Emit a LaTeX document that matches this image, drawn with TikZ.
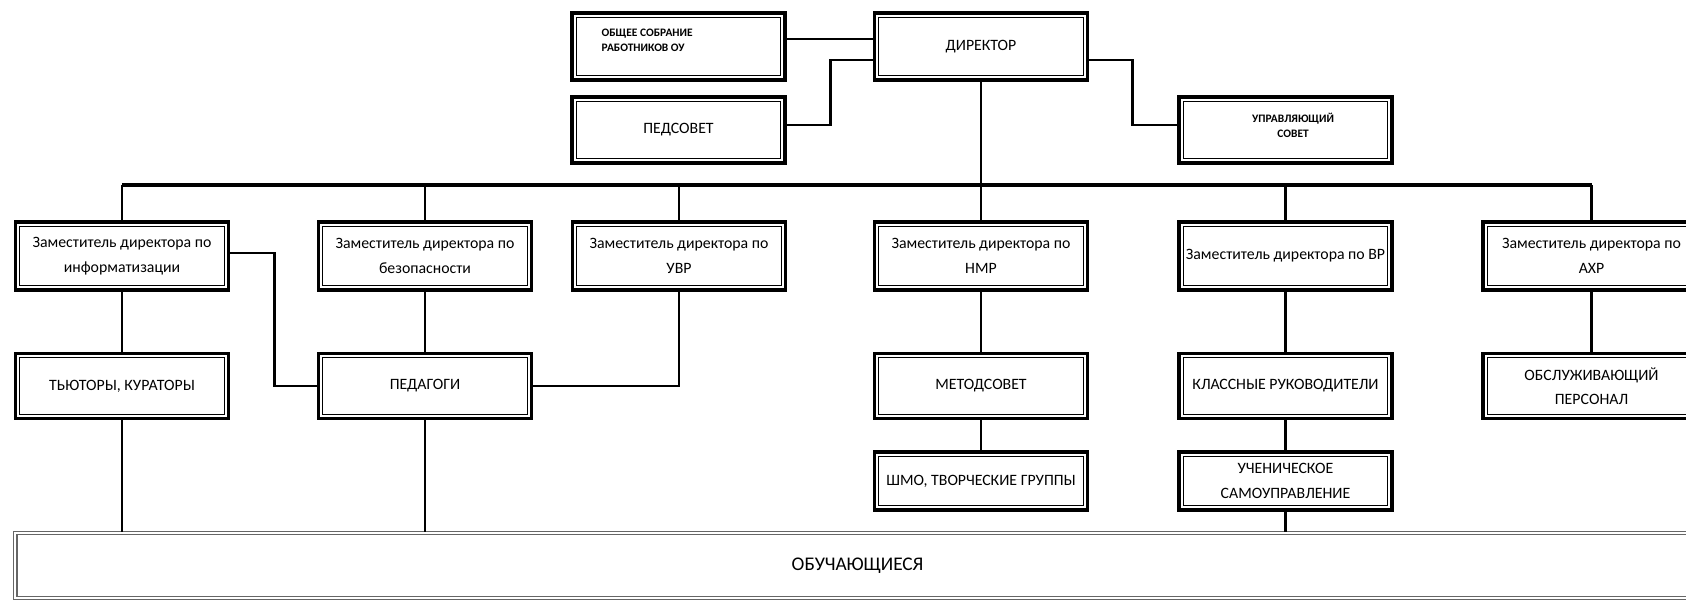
\documentclass[tikz,border=0pt]{standalone}
\usepackage{fontspec}
\setmainfont{Carlito}
\usepackage{tikz}
\usetikzlibrary{calc,positioning}

\begin{document}
\begin{tikzpicture}[x=0.02cm,y=-0.02cm,
		box/.style={draw,line width=2pt,minimum width=4.26cm,minimum height=1.34cm,inner xsep=1pt,inner ysep=2pt,align=center,font=\fontsize{9}{14}\selectfont,
			path picture={\draw[line width=0.6pt] ([shift={(2.4pt,2.4pt)}]path picture bounding box.south west) rectangle ([shift={(-2.4pt,-2.4pt)}]path picture bounding box.north east);}},
		boldtext/.style={inner sep=0pt,font=\fontsize{6.5}{8.5}\selectfont\bfseries},
		link/.style={line width=1.6pt},
		thinlink/.style={line width=1.3pt}]
		\useasboundingbox (0,0) rectangle (1686,602);
		\clip (0,0) rectangle (1686,602);
		\begin{scope}
			\node(obshee) [box] at (678.5,46.5) {}
				node at ([xshift=0.62cm,yshift=0.13cm]obshee.west) [boldtext,anchor=west,align=left] {ОБЩЕЕ СОБРАНИЕ\\РАБОТНИКОВ ОУ};
			\node(dir) [box] at (981,46.5) {ДИРЕКТОР};
			\node(pedsovet) [box,minimum height=1.32cm] at (678.5,130) {ПЕДСОВЕТ};
			\node(upr) [box,minimum height=1.32cm] at (1285.5,130) {}
				node at ([xshift=0.15cm,yshift=0.1cm]upr.center) [boldtext,align=center] {УПРАВЛЯЮЩИЙ\\СОВЕТ};
			\coordinate (bus) at (0,185);
			% deputies
			\node(zinfo) [box,minimum height=1.36cm] at (122,256) {Заместитель директора по\\информатизации};
			\node(zbez) [box,minimum height=1.36cm] at (425,256) {Заместитель директора по\\безопасности};
			\node(zuvr) [box,minimum height=1.36cm] at (679,256) {Заместитель директора по\\УВР};
			\node(znmr) [box,minimum height=1.36cm] at (981,256) {Заместитель директора по\\НМР};
			\node(zvr) [box,minimum height=1.36cm,inner xsep=0pt] at (1285.5,256) {Заместитель директора по ВР};
			\node(zahr) [box,minimum width=4.34cm,minimum height=1.36cm] at (1591.5,256) {Заместитель директора по\\АХР};
			% staff
			\node(tutor) [box,below=1.2cm of zinfo,minimum height=1.3cm] {ТЬЮТОРЫ, КУРАТОРЫ};
			\node(pedag) [box,below=1.2cm of zbez,minimum height=1.3cm] {ПЕДАГОГИ};
			\node(metod) [box,below=1.2cm of znmr,minimum height=1.3cm] {МЕТОДСОВЕТ};
			\node(klass) [box,below=1.2cm of zvr,minimum height=1.3cm] {КЛАССНЫЕ РУКОВОДИТЕЛИ};
			\node(obsl) [box,below=1.2cm of zahr,minimum width=4.34cm,minimum height=1.3cm] {ОБСЛУЖИВАЮЩИЙ\\ПЕРСОНАЛ};
			\node(shmo) [box,below=0.6cm of metod,minimum height=1.16cm,inner xsep=0pt] {ШМО, ТВОРЧЕСКИЕ ГРУППЫ};
			\node(uchen) [box,below=0.6cm of klass,minimum height=1.16cm] {УЧЕНИЧЕСКОЕ\\САМОУПРАВЛЕНИЕ};
			\node(obuch) [draw=black!60,double,double distance=1pt,line width=0.9pt,minimum width=33.7cm,minimum height=1.3cm,font=\fontsize{11}{13}\selectfont] at (857.5,565.5) {ОБУЧАЮЩИЕСЯ};
			% links
			\draw[link] ([yshift=0.15cm]obshee.east) -- ([yshift=0.15cm]dir.west);
			\draw[link] ([yshift=0.1cm]pedsovet.east) -- ++(0.88cm,0) |- ([yshift=-0.27cm]dir.west);
			\draw[link] ([yshift=-0.27cm]dir.east) -- ++(0.86cm,0) |- ([yshift=0.1cm]upr.west);
			\draw[link] (dir.south) -- (dir.south |- bus);
			\draw[line width=2pt] (bus -| zinfo.north) -- (bus -| zahr.north);
			\foreach \n in {zinfo,zbez,zuvr,znmr,zvr,zahr}
				\draw[link] (bus -| \n.north) -- (\n.north);
			\draw[thinlink] (zinfo.south) -- (tutor.north);
			\draw[link] ([yshift=0.06cm]zinfo.east) -- ++(0.88cm,0) |- (pedag.west);
			\draw[thinlink] (zbez.south) -- (pedag.north);
			\draw[link] (zuvr.south) |- (pedag.east);
			\draw[thinlink] (znmr.south) -- (metod.north);
			\draw[thinlink] (metod.south) -- (shmo.north);
			\draw[thinlink] (zvr.south) -- (klass.north);
			\draw[thinlink] (klass.south) -- (uchen.north);
			\draw[thinlink] (zahr.south) -- (obsl.north);
			\draw[thinlink] (tutor.south) -- (tutor.south |- obuch.north);
			\draw[thinlink] (pedag.south) -- (pedag.south |- obuch.north);
			\draw[thinlink] (uchen.south) -- (uchen.south |- obuch.north);
		\end{scope}
	\end{tikzpicture}
\end{document}
